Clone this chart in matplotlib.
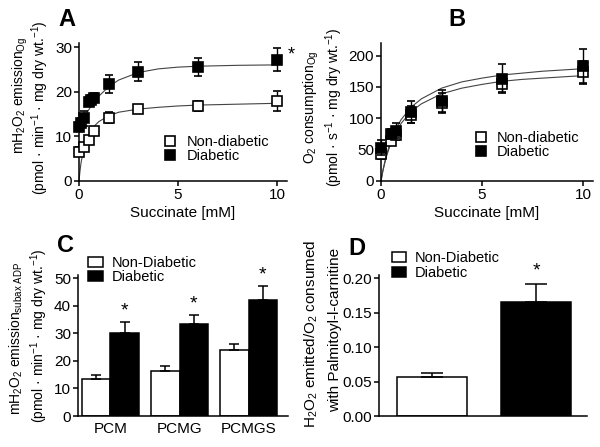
import matplotlib
matplotlib.use("Agg")
import matplotlib.pyplot as plt
from matplotlib.patches import Patch
from matplotlib.lines import Line2D

plt.rcParams['font.family'] = ['Liberation Sans', 'DejaVu Sans']
plt.rcParams['mathtext.fontset'] = 'custom'
plt.rcParams['mathtext.rm'] = 'Liberation Sans'
plt.rcParams['mathtext.it'] = 'Liberation Sans'
plt.rcParams['font.size'] = 10

# ---- Panel A: H2O2 emission vs succinate ----
a_x_non = [0, 0.25, 0.5, 0.75, 1.5, 3, 6, 10]
a_y_non = [6.6, 7.7, 9.2, 11.2, 14.2, 16.1, 16.8, 17.9]
a_e_non = [1.0, 0.8, 0.8, 0.8, 1.3, 0.8, 1.2, 2.3]
a_x_dia = [0, 0.1, 0.25, 0.5, 0.6, 0.75, 1.5, 3, 6, 10]
a_y_dia = [12.2, 13.0, 14.0, 17.8, 18.2, 18.6, 21.7, 24.5, 25.5, 27.2]
a_e_dia = [1.0, 1.0, 1.6, 1.0, 1.0, 1.0, 2.1, 2.2, 2.0, 2.5]
# fitted curves
a_fit_x = [0, 0.05, 0.1, 0.2, 0.3, 0.5, 0.75, 1, 1.5, 2, 3, 4, 5, 6, 8, 10]
a_fit_non = [0, 2.2, 4.0, 6.4, 8.0, 10.4, 12.2, 13.3, 14.6, 15.4, 16.1, 16.5, 16.8, 17.0, 17.2, 17.4]
a_fit_dia = [12.0, 12.5, 12.9, 13.7, 14.5, 16.0, 17.7, 19.0, 21.1, 22.6, 24.3, 25.1, 25.5, 25.7, 25.9, 26.0]

# ---- Panel B: O2 consumption vs succinate ----
b_x = [0, 0.5, 0.75, 1.5, 3, 6, 10]
b_y_non = [43, 63, 73, 106, 125, 155, 174]
b_e_non = [8, 6, 8, 14, 15, 13, 18]
b_y_dia = [53, 75, 80, 110, 127, 163, 183]
b_e_dia = [12, 8, 12, 18, 18, 23, 28]
b_fit_x = [0, 0.1, 0.25, 0.5, 0.75, 1, 1.5, 2, 3, 4, 5, 6, 7, 8, 10]
b_fit_non = [0, 17, 37, 62, 79, 92, 111, 123, 139, 148, 154, 159, 162, 164, 168]
b_fit_dia = [0, 18, 39, 66, 84, 98, 118, 131, 148, 158, 164, 169, 172, 175, 179]

# ---- Panel C: emission by substrate ----
c_groups = ['PCM', 'PCMG', 'PCMGS']
c_non = [13.6, 16.3, 23.9]
c_non_err = [1.4, 1.8, 2.4]
c_dia = [30.3, 33.3, 42.1]
c_dia_err = [3.9, 3.3, 5.2]

# ---- Panel D: ratio ----
d_groups = ['Non-Diabetic', 'Diabetic']
d_vals = [0.057, 0.165]
d_err = [0.006, 0.027]

W, H = 600, 447
fig = plt.figure(figsize=(6, 4.47), dpi=100)


def box(l, r, t, b):
    return [l / W, 1 - b / H, (r - l) / W, (b - t) / H]


def ftext(x, y, s, **kw):
    # text placed in figure pixels (top-left origin)
    fig.text(x / W, 1 - y / H, s, ha='center', va='center', **kw)


def style(ax):
    for s in ['top', 'right']:
        ax.spines[s].set_visible(False)
    for s in ['left', 'bottom']:
        ax.spines[s].set_linewidth(1.1)
    ax.tick_params(direction='out', length=3.5, width=1.1, labelsize=11, pad=1.5)


def scatter_panel(ax, x_non, y_non, e_non, x_dia, y_dia, e_dia, fx, f_non, f_dia, anchor):
    ax.plot(fx, f_non, color='#444444', lw=0.8, clip_on=False, zorder=2)
    ax.plot(fx, f_dia, color='#444444', lw=0.8, clip_on=False, zorder=2)
    ax.errorbar(x_non, y_non, yerr=e_non, fmt='s', ms=6.5, mfc='white', mec='black',
                mew=1.2, ecolor='black', elinewidth=1, capsize=2.8, capthick=1,
                clip_on=False, zorder=3)
    ax.errorbar(x_dia, y_dia, yerr=e_dia, fmt='s', ms=6.5, mfc='black', mec='black',
                mew=1.2, ecolor='black', elinewidth=1, capsize=2.8, capthick=1,
                clip_on=False, zorder=4)
    ax.set_xlim(0, 10.5)
    ax.set_xticks([0, 5, 10])
    ax.set_xlabel('Succinate [mM]', fontsize=11, labelpad=3)
    handles = [Line2D([], [], marker='s', ls='none', ms=6.5, mfc='white', mec='black', mew=1.2),
               Line2D([], [], marker='s', ls='none', ms=6.5, mfc='black', mec='black', mew=1.2)]
    ax.legend(handles, ['Non-diabetic', 'Diabetic'], frameon=False, fontsize=10.5,
              loc='upper left', bbox_to_anchor=anchor, handletextpad=0.6,
              labelspacing=0.0, borderpad=0.0, borderaxespad=0, handlelength=1.0)
    style(ax)


# Panel A
axA = fig.add_axes(box(79, 287, 43, 181))
scatter_panel(axA, a_x_non, a_y_non, a_e_non, a_x_dia, a_y_dia, a_e_dia,
              a_fit_x, a_fit_non, a_fit_dia, (0.404, 0.33))
axA.set_ylim(0, 30.9)
axA.set_yticks([0, 10, 20, 30])
axA.text(10.55, 28.2, '*', fontsize=13, ha='left', va='center')
ftext(20, 95, 'mH$_2$O$_2$ emission$_{\\mathrm{Og}}$', rotation=90, fontsize=10)
ftext(40, 108, '(pmol · min$^{-1}$ · mg dry wt.$^{-1}$)', rotation=90, fontsize=10)

# Panel B
axB = fig.add_axes(box(381, 593, 43, 181))
scatter_panel(axB, b_x, b_y_non, b_e_non, b_x, b_y_dia, b_e_dia,
              b_fit_x, b_fit_non, b_fit_dia, (0.437, 0.36))
axB.set_ylim(0, 220)
axB.set_yticks([0, 50, 100, 150, 200])
ftext(311, 107, 'O$_2$ consumption$_{\\mathrm{Og}}$', rotation=90, fontsize=10)
ftext(334, 107, '(pmol · s$^{-1}$ · mg dry wt.$^{-1}$)', rotation=90, fontsize=10)

# Panel C
axC = fig.add_axes(box(78, 288, 275, 416))
pos = list(range(len(c_groups)))
bw = 0.41
axC.bar([p - bw / 2 for p in pos], c_non, bw, color='white', edgecolor='black', lw=1.1,
        yerr=[[0] * 3, c_non_err], error_kw=dict(elinewidth=1.1, capsize=3.5, capthick=1.1))
axC.bar([p + bw / 2 for p in pos], c_dia, bw, color='black', edgecolor='black', lw=1.1,
        yerr=[[0] * 3, c_dia_err], error_kw=dict(elinewidth=1.1, capsize=3.5, capthick=1.1))
for p, v, e in zip(pos, c_dia, c_dia_err):
    axC.text(p + bw / 2, v + e + 1.0, '*', fontsize=14, ha='center', va='bottom')
axC.set_xlim(-0.47, 2.57)
axC.set_ylim(0, 51.2)
axC.set_yticks([0, 10, 20, 30, 40, 50])
axC.set_xticks(pos)
axC.set_xticklabels(c_groups)
style(axC)
axC.tick_params(axis='x', length=0, pad=4)
ftext(16, 338, 'mH$_2$O$_2$ emission$_{\\mathrm{subax\\ ADP}}$', rotation=90, fontsize=10)
ftext(39, 336, '(pmol · min$^{-1}$ · mg dry wt.$^{-1}$)', rotation=90, fontsize=10)
axC.legend([Patch(fc='white', ec='black', lw=1.1), Patch(fc='black', ec='black', lw=1.1)],
           ['Non-Diabetic', 'Diabetic'], frameon=False, fontsize=10.5, loc='upper left',
           bbox_to_anchor=(0.049, 1.135), handlelength=1.03, handleheight=0.7,
           handletextpad=0.55, labelspacing=0.0, borderpad=0.0, borderaxespad=0)

# Panel D
axD = fig.add_axes(box(379, 587, 275, 416))
dpos = list(range(len(d_groups)))
axD.bar(dpos, d_vals, 0.67, color=['white', 'black'], edgecolor='black', lw=1.1,
        yerr=[[0, 0], d_err], error_kw=dict(elinewidth=1.1, capsize=8, capthick=1.1))
axD.text(dpos[1], d_vals[1] + d_err[1] + 0.006, '*', fontsize=14, ha='center', va='bottom')
axD.set_xlim(-0.51, 1.49)
axD.set_ylim(0, 0.2048)
axD.set_yticks([0, 0.05, 0.10, 0.15, 0.20])
axD.set_yticklabels(['0.00', '0.05', '0.10', '0.15', '0.20'])
axD.set_xticks([])
style(axD)
ftext(311, 334, 'H$_2$O$_2$ emitted/O$_2$ consumed', rotation=90, fontsize=11)
ftext(335, 330, 'with Palmitoyl-l-carnitine', rotation=90, fontsize=11)
axD.legend([Patch(fc='white', ec='black', lw=1.1), Patch(fc='black', ec='black', lw=1.1)],
           ['Non-Diabetic', 'Diabetic'], frameon=False, fontsize=10.5, loc='upper left',
           bbox_to_anchor=(0.061, 1.17), handlelength=1.0, handleheight=0.7,
           handletextpad=0.6, labelspacing=0.1, borderpad=0.0, borderaxespad=0)

# panel letters
for lx, ly, letter in [(67, 20, 'A'), (457, 19, 'B'), (66, 246, 'C'), (357, 248, 'D')]:
    ftext(lx, ly, letter, fontsize=17, fontweight='bold')

fig.savefig('out.png', dpi=100)
